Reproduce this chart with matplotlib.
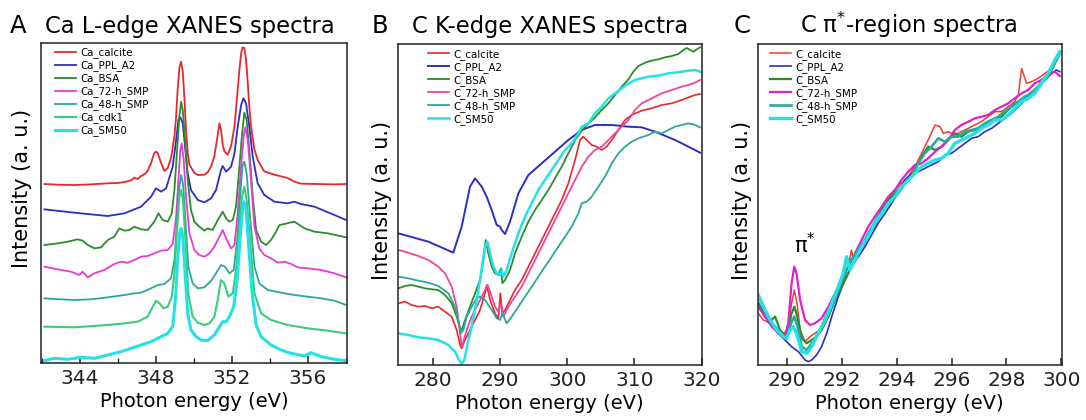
import numpy as np
import matplotlib.pyplot as plt
from matplotlib.ticker import MultipleLocator

# === Panel A: Ca L-edge XANES (energy eV, intensity a.u. incl. stacking offset) ===
a_calcite = [(342.13, 53.7), (342.83, 53.5), (343.70, 53.4), (344.58, 53.6), (345.46, 53.9), (345.98, 54.0),
             (346.34, 54.3), (346.69, 54.8), (346.86, 55.6), (347.04, 55.2), (347.21, 56.1), (347.39, 56.6),
             (347.56, 57.6), (347.74, 60.0), (347.91, 63.0), (348.0, 63.4), (348.09, 63.0), (348.27, 60.0),
             (348.44, 57.6), (348.62, 58.5), (348.79, 61.5), (348.97, 68.0), (349.06, 74.0), (349.14, 82.0),
             (349.23, 88.5), (349.32, 90.4), (349.41, 87.5), (349.49, 80.0), (349.58, 70.0), (349.67, 63.0),
             (349.76, 59.5), (350.02, 57.0), (350.20, 56.4), (350.55, 56.5), (350.72, 57.2), (350.90, 59.0),
             (351.07, 62.0), (351.25, 68.5), (351.34, 71.9), (351.42, 70.0), (351.51, 65.5), (351.60, 63.5),
             (351.77, 62.5), (351.95, 65.0), (352.13, 71.0), (352.30, 82.0), (352.39, 88.0), (352.48, 93.0),
             (352.56, 94.7), (352.65, 94.5), (352.74, 91.0), (352.83, 84.0), (352.91, 77.0), (353.0, 71.0),
             (353.18, 64.0), (353.35, 61.0), (353.53, 59.0), (353.70, 57.5), (354.23, 56.5), (354.58, 56.0),
             (354.93, 55.5), (355.28, 54.4), (355.63, 53.8), (356.51, 53.7), (357.39, 53.6), (358.0, 53.7)]
a_ppl = [(342.13, 46.1), (343.70, 45.1), (345.46, 44.1), (346.34, 44.9), (347.21, 46.9), (347.74, 49.9),
         (348.0, 52.4), (348.27, 51.4), (348.53, 52.4), (348.88, 58.9), (349.06, 66.9), (349.18, 72.9),
         (349.28, 73.7), (349.41, 71.9), (349.53, 64.9), (349.67, 56.9), (349.84, 51.9), (350.20, 48.9),
         (350.55, 48.2), (350.90, 49.4), (351.16, 51.9), (351.42, 57.9), (351.51, 59.1), (351.69, 57.4),
         (351.95, 58.9), (352.13, 62.9), (352.30, 70.9), (352.48, 77.4), (352.60, 79.4), (352.74, 77.9),
         (352.91, 70.9), (353.09, 61.9), (353.35, 53.9), (353.70, 50.4), (354.23, 48.4), (354.93, 47.9),
         (355.28, 48.4), (355.63, 47.7), (356.34, 46.9), (357.39, 44.4), (358.0, 42.9)]
a_bsa = [(342.13, 35.4), (342.83, 35.9), (343.35, 36.4), (343.88, 37.1), (344.14, 36.7), (344.41, 35.4),
         (344.76, 34.4), (345.11, 34.7), (345.46, 36.9), (345.81, 37.9), (346.07, 40.4), (346.34, 39.7),
         (346.60, 39.9), (346.86, 40.9), (347.21, 40.1), (347.56, 39.9), (347.91, 42.4), (348.13, 44.9),
         (348.35, 42.9), (348.62, 42.4), (348.83, 44.9), (348.97, 51.9), (349.11, 63.9), (349.23, 73.9),
         (349.32, 78.4), (349.41, 75.9), (349.53, 66.9), (349.67, 54.9), (349.84, 45.9), (350.02, 42.4),
         (350.28, 40.9), (350.55, 39.7), (350.72, 40.4), (350.98, 39.9), (351.25, 42.9), (351.51, 45.4),
         (351.69, 43.4), (351.86, 42.4), (352.04, 42.9), (352.21, 46.9), (352.39, 58.9), (352.53, 68.9),
         (352.65, 75.1), (352.77, 72.9), (352.91, 63.9), (353.09, 49.9), (353.27, 39.9), (353.53, 36.4),
         (353.79, 35.4), (354.05, 36.9), (354.32, 39.4), (354.49, 41.4), (354.76, 41.7), (355.02, 42.1),
         (355.28, 42.4), (355.55, 41.4), (355.81, 40.4), (356.34, 39.4), (357.04, 38.9), (358.0, 37.7)]
a_72h = [(342.13, 28.9), (342.83, 28.1), (343.53, 27.4), (343.97, 26.4), (344.14, 27.4), (344.41, 25.7),
         (344.76, 26.9), (345.28, 27.9), (345.81, 29.7), (346.16, 30.4), (346.51, 30.1), (346.86, 30.9),
         (347.21, 31.9), (347.56, 32.1), (347.91, 32.9), (348.27, 33.7), (348.62, 33.9), (348.88, 35.7),
         (349.06, 43.9), (349.18, 54.9), (349.28, 63.9), (349.35, 65.9), (349.46, 60.9), (349.58, 49.9),
         (349.76, 38.9), (350.02, 33.9), (350.28, 32.4), (350.55, 31.9), (350.81, 32.9), (351.07, 34.9),
         (351.34, 37.9), (351.51, 39.9), (351.69, 37.4), (351.95, 34.4), (352.13, 35.4), (352.30, 44.9),
         (352.48, 58.9), (352.62, 68.4), (352.70, 70.7), (352.83, 66.9), (353.0, 54.9), (353.18, 40.9),
         (353.44, 34.4), (353.70, 32.4), (354.05, 31.4), (354.41, 30.1), (354.76, 30.4), (355.11, 29.7),
         (355.46, 28.7), (355.98, 28.4), (356.69, 27.9), (357.39, 26.9), (358.0, 25.7)]
a_48h = [(342.13, 19.4), (343.0, 19.1), (343.70, 18.9), (344.58, 19.1), (345.46, 19.7), (346.34, 20.4),
         (346.86, 20.9), (347.21, 21.1), (347.74, 22.4), (348.09, 23.4), (348.44, 23.7), (348.79, 25.4),
         (348.97, 30.9), (349.11, 42.9), (349.23, 52.9), (349.32, 56.4), (349.42, 53.9), (349.55, 42.9),
         (349.70, 28.9), (349.93, 23.9), (350.20, 22.4), (350.55, 22.7), (350.90, 24.7), (351.16, 26.9),
         (351.42, 29.4), (351.63, 28.9), (351.86, 26.9), (352.09, 27.9), (352.27, 36.9), (352.44, 50.9),
         (352.56, 59.4), (352.65, 60.4), (352.77, 56.9), (352.95, 43.9), (353.18, 28.9), (353.44, 23.9),
         (353.88, 21.9), (354.58, 21.1), (355.28, 20.4), (355.98, 19.9), (356.69, 19.4), (357.39, 18.7),
         (358.0, 17.4)]
a_cdk1 = [(342.13, 10.9), (343.70, 10.7), (345.46, 11.4), (346.34, 11.9), (347.04, 12.4), (347.56, 13.9),
          (347.83, 16.9), (348.0, 18.7), (348.18, 17.9), (348.41, 16.4), (348.62, 16.9), (348.83, 19.9),
          (348.97, 26.9), (349.11, 39.9), (349.23, 49.9), (349.32, 51.9), (349.42, 48.9), (349.55, 36.9),
          (349.70, 20.9), (349.93, 13.9), (350.20, 12.1), (350.55, 11.4), (350.81, 11.9), (351.07, 13.9),
          (351.25, 18.9), (351.42, 24.9), (351.60, 23.9), (351.81, 19.9), (352.04, 20.9), (352.21, 27.9),
          (352.39, 40.9), (352.53, 49.9), (352.65, 52.9), (352.77, 48.9), (352.95, 36.9), (353.18, 20.9),
          (353.53, 14.9), (354.05, 12.9), (354.93, 11.4), (355.98, 10.4), (357.04, 9.7), (358.0, 8.9)]
a_sm50 = [(342.13, 0.7), (342.65, 1.4), (343.35, 1.1), (344.06, 1.7), (344.76, 1.4), (345.46, 2.4),
          (346.16, 3.4), (346.69, 4.4), (347.21, 5.4), (347.74, 6.4), (348.27, 7.9), (348.62, 8.9),
          (348.88, 10.9), (349.02, 18.9), (349.14, 30.9), (349.25, 38.9), (349.32, 40.4), (349.41, 37.9),
          (349.53, 26.9), (349.67, 14.9), (349.84, 9.9), (350.11, 7.9), (350.37, 6.9), (350.72, 6.7),
          (351.07, 8.4), (351.34, 10.9), (351.51, 12.4), (351.69, 12.4), (351.86, 13.9), (352.09, 16.9),
          (352.27, 24.9), (352.42, 36.9), (352.55, 45.9), (352.63, 48.4), (352.74, 45.9), (352.88, 34.9),
          (353.06, 20.9), (353.27, 11.4), (353.53, 7.9), (354.05, 5.4), (354.58, 3.9), (355.11, 2.9),
          (355.81, 2.1), (356.16, 3.1), (356.69, 1.9), (357.39, 1.1), (358.0, 0.7)]

# === Panel B: C K-edge XANES ===
b_calcite = [(274.90, 18.5), (275.89, 19.0), (276.88, 18.0), (277.87, 17.5), (278.86, 17.7), (279.85, 17.0),
             (280.84, 17.5), (281.83, 16.0), (282.83, 14.5), (283.57, 10.5), (284.07, 6.0), (284.31, 5.0),
             (284.81, 7.5), (285.55, 10.5), (286.30, 13.5), (287.04, 16.5), (287.78, 21.5), (288.03, 24.0),
             (288.53, 19.5), (289.27, 15.5), (289.77, 14.0), (290.06, 21.5), (290.36, 15.5), (290.76, 16.5),
             (291.50, 19.5), (292.24, 22.5), (293.24, 25.5), (294.23, 29.5), (295.22, 33.5), (296.21, 37.5),
             (297.20, 41.5), (298.19, 45.5), (299.18, 49.5), (300.17, 54.5), (301.17, 61.5), (301.91, 67.5),
             (302.40, 68.5), (302.90, 67.5), (303.64, 66.0), (304.39, 65.5), (305.13, 64.5), (305.87, 65.5),
             (306.62, 67.5), (307.61, 70.5), (308.60, 73.5), (309.59, 75.0), (311.08, 76.3), (312.57, 77.0),
             (314.05, 78.0), (315.54, 78.5), (317.03, 79.5), (318.02, 80.3), (319.01, 81.0), (319.75, 81.3)]
b_ppl = [(274.90, 39.5), (279.36, 37.0), (283.07, 33.7), (284.31, 41.5), (285.55, 53.5), (286.30, 56.0),
         (287.29, 53.5), (288.03, 50.5), (288.77, 46.5), (289.52, 42.0), (290.01, 41.5), (290.26, 40.5),
         (290.76, 39.3), (291.50, 43.0), (292.74, 51.5), (294.23, 57.0), (296.21, 60.5), (298.19, 64.0),
         (300.17, 67.5), (302.16, 70.5), (304.14, 72.0), (306.6, 72.0), (309.10, 71.5), (311.08, 71.3),
         (313.06, 70.0), (316.04, 67.5), (318.02, 65.5), (319.75, 63.7)]
b_bsa = [(274.90, 23.0), (275.89, 23.7), (276.88, 24.0), (277.87, 23.5), (278.86, 23.0), (279.85, 22.7),
         (280.84, 22.5), (281.83, 21.0), (282.83, 18.5), (283.57, 14.5), (284.07, 11.0), (284.31, 10.5),
         (284.81, 13.5), (285.55, 17.5), (286.30, 21.5), (287.04, 25.5), (287.54, 31.5), (287.88, 37.5),
         (288.28, 33.5), (288.77, 29.5), (289.27, 27.5), (289.77, 27.0), (290.16, 29.0), (290.36, 24.5),
         (290.76, 25.5), (291.50, 28.5), (292.24, 33.5), (293.24, 38.5), (294.23, 43.0), (295.22, 46.5),
         (296.21, 49.5), (297.20, 52.5), (298.19, 56.0), (299.18, 59.5), (300.17, 63.5), (301.17, 67.5),
         (302.16, 70.3), (303.15, 72.5), (304.14, 74.3), (305.13, 76.5), (306.12, 78.5), (307.11, 81.0),
         (308.11, 83.5), (309.10, 85.7), (309.84, 88.0), (310.58, 89.7), (311.58, 90.7), (312.57, 91.3),
         (313.56, 91.7), (314.55, 92.3), (315.54, 92.7), (316.53, 93.3), (317.28, 94.5), (317.77, 95.1),
         (318.27, 94.5), (318.76, 94.0), (319.26, 94.7), (319.75, 95.3)]
b_72h = [(274.90, 34.5), (276.38, 33.7), (277.87, 32.7), (279.36, 31.5), (280.84, 29.5), (281.83, 27.5),
         (282.83, 23.5), (283.57, 17.5), (284.07, 9.5), (284.31, 5.5), (284.56, 7.0), (285.06, 10.5),
         (285.80, 14.5), (286.79, 18.5), (287.54, 21.5), (288.18, 24.0), (288.77, 20.5), (289.27, 17.5),
         (289.77, 16.0), (290.16, 18.5), (290.51, 14.5), (291.25, 17.5), (292.24, 20.5), (293.24, 23.5),
         (294.23, 27.5), (295.22, 31.5), (296.21, 35.5), (297.20, 39.5), (298.19, 43.5), (299.18, 47.5),
         (300.17, 51.5), (301.17, 55.5), (302.16, 59.5), (303.15, 62.5), (304.14, 64.5), (305.13, 65.5),
         (306.12, 67.5), (307.11, 69.5), (308.11, 71.5), (309.10, 73.5), (310.09, 76.5), (311.08, 78.5),
         (312.07, 79.5), (313.06, 80.5), (314.05, 81.5), (315.54, 82.5), (317.03, 83.5), (318.02, 84.0),
         (319.01, 84.7), (319.75, 85.5)]
b_48h = [(274.90, 26.5), (276.38, 26.0), (277.87, 25.3), (279.36, 24.7), (280.84, 23.7), (282.33, 21.5),
         (283.32, 17.5), (283.92, 12.5), (284.21, 9.5), (284.56, 10.5), (285.06, 14.5), (285.80, 17.5),
         (286.54, 20.0), (287.04, 20.5), (287.78, 19.5), (288.77, 16.5), (289.52, 14.0), (290.01, 13.5),
         (290.36, 15.5), (291.0, 12.5), (291.75, 14.5), (292.74, 17.5), (293.73, 20.5), (294.72, 23.5),
         (295.71, 26.5), (296.70, 29.5), (297.70, 32.5), (298.69, 35.5), (299.68, 38.5), (300.67, 41.5),
         (301.66, 45.5), (302.16, 48.5), (302.90, 49.0), (303.64, 50.5), (304.63, 53.5), (305.63, 56.5),
         (306.62, 60.5), (307.61, 63.5), (308.60, 65.5), (309.59, 67.0), (310.58, 68.0), (312.07, 69.0),
         (313.06, 70.0), (314.05, 69.5), (315.04, 70.5), (316.04, 71.5), (317.03, 72.0), (318.02, 72.5),
         (319.01, 72.0), (319.75, 71.3)]
b_sm50 = [(274.90, 9.5), (276.38, 9.0), (277.87, 8.3), (279.36, 8.0), (280.84, 7.5), (282.33, 6.0),
          (283.32, 4.0), (283.92, 1.5), (284.31, 0.3), (284.71, 1.5), (285.20, 6.5), (285.80, 11.5),
          (286.54, 19.5), (287.19, 27.5), (287.78, 35.5), (288.13, 37.0), (288.53, 33.5), (289.02, 29.5),
          (289.52, 27.5), (290.01, 27.0), (290.26, 28.5), (290.51, 26.5), (291.0, 28.5), (291.75, 33.5),
          (292.74, 39.5), (293.73, 44.5), (294.72, 48.5), (295.71, 52.5), (296.70, 55.5), (297.70, 58.5),
          (298.69, 61.5), (299.68, 64.5), (300.67, 66.5), (301.66, 69.5), (302.16, 71.5), (303.15, 72.5),
          (304.14, 75.5), (305.13, 77.5), (306.12, 80.0), (307.11, 81.5), (308.11, 83.0), (309.10, 84.5),
          (310.09, 85.5), (311.08, 86.0), (312.07, 86.5), (313.06, 86.7), (314.05, 87.0), (315.04, 87.5),
          (316.04, 87.7), (317.03, 88.0), (318.02, 88.3), (319.01, 88.5), (319.75, 88.0)]

# === Panel C: C pi*-region ===
c_calcite = [(288.97, 15.5), (289.15, 13.5), (289.40, 12.5), (289.64, 10.0), (289.88, 9.0), (290.06, 11.5),
             (290.18, 18.5), (290.28, 22.5), (290.38, 18.5), (290.49, 10.5), (290.67, 7.0), (290.85, 8.5),
             (291.03, 9.5), (291.21, 10.5), (291.40, 14.5), (291.64, 18.5), (291.88, 22.5), (292.12, 26.5),
             (292.30, 32.0), (292.36, 34.5), (292.43, 31.5), (292.61, 32.5), (292.85, 35.5), (293.09, 39.5),
             (293.46, 45.5), (293.70, 49.5), (293.94, 52.5), (294.18, 54.5), (294.43, 56.5), (294.67, 59.5),
             (294.91, 63.5), (295.15, 67.5), (295.40, 72.0), (295.58, 71.5), (295.70, 69.5), (295.88, 70.0),
             (296.12, 69.0), (296.36, 70.0), (296.61, 71.0), (296.85, 72.0), (297.09, 73.0), (297.33, 74.5),
             (297.58, 76.0), (297.82, 76.0), (298.06, 77.5), (298.30, 79.0), (298.43, 81.0), (298.55, 89.0),
             (298.73, 84.5), (298.91, 85.0), (299.15, 86.0), (299.40, 87.5), (299.64, 89.0), (299.82, 91.5),
             (299.94, 93.5)]
c_ppl = [(288.97, 18.5), (289.21, 14.5), (289.46, 11.5), (289.70, 9.5), (289.94, 7.5), (290.18, 5.5),
         (290.43, 4.0), (290.67, 1.5), (290.79, 1.0), (290.91, 1.5), (291.09, 3.0), (291.27, 5.5),
         (291.46, 9.5), (291.64, 14.5), (291.88, 20.5), (292.12, 25.5), (292.36, 29.5), (292.61, 32.5),
         (292.85, 35.5), (293.09, 39.0), (293.33, 42.5), (293.58, 45.5), (293.82, 48.5), (294.06, 51.5),
         (294.30, 55.5), (294.55, 57.5), (294.79, 58.0), (295.03, 59.0), (295.27, 60.0), (295.52, 61.0),
         (295.76, 63.0), (296.0, 63.5), (296.24, 65.0), (296.49, 66.5), (296.73, 68.0), (296.97, 68.5),
         (297.21, 70.0), (297.46, 71.0), (297.70, 72.5), (297.94, 74.0), (298.18, 75.5), (298.43, 77.5),
         (298.67, 79.5), (298.91, 81.5), (299.15, 83.5), (299.40, 85.5), (299.64, 87.5), (299.82, 88.5),
         (299.94, 88.0)]
c_bsa = [(288.97, 18.5), (289.21, 15.5), (289.46, 13.5), (289.58, 14.5), (289.76, 10.5), (289.94, 9.0),
         (290.06, 10.5), (290.18, 15.5), (290.28, 17.5), (290.39, 14.5), (290.55, 8.0), (290.73, 6.5),
         (290.91, 7.5), (291.09, 8.5), (291.27, 10.5), (291.52, 14.5), (291.76, 19.5), (292.0, 23.5),
         (292.24, 27.5), (292.49, 31.5), (292.73, 35.5), (292.97, 39.5), (293.21, 43.0), (293.46, 46.5),
         (293.70, 49.5), (293.94, 51.5), (294.18, 53.5), (294.43, 55.5), (294.67, 58.5), (294.91, 62.5),
         (295.15, 65.5), (295.40, 64.5), (295.64, 65.5), (295.88, 67.5), (296.12, 69.5), (296.36, 68.5),
         (296.61, 70.0), (296.85, 70.5), (297.09, 71.5), (297.33, 73.0), (297.58, 74.0), (297.82, 74.5),
         (298.06, 76.5), (298.30, 78.5), (298.55, 79.5), (298.79, 81.0), (299.03, 82.5), (299.27, 84.5),
         (299.52, 86.5), (299.76, 90.5), (299.94, 94.0)]
c_72h = [(288.97, 17.5), (289.21, 14.5), (289.46, 12.0), (289.70, 9.5), (289.94, 8.5), (290.06, 12.5),
         (290.18, 24.5), (290.28, 29.5), (290.36, 27.5), (290.49, 19.5), (290.67, 13.5), (290.85, 12.0),
         (291.03, 12.5), (291.27, 14.0), (291.52, 17.5), (291.76, 21.5), (292.0, 25.5), (292.24, 29.5),
         (292.49, 33.5), (292.73, 37.5), (292.97, 41.5), (293.21, 44.5), (293.46, 47.5), (293.70, 50.5),
         (293.94, 52.5), (294.18, 55.5), (294.43, 58.0), (294.67, 60.0), (294.91, 60.5), (295.15, 62.0),
         (295.40, 64.0), (295.64, 65.5), (295.88, 67.5), (296.12, 70.5), (296.36, 72.0), (296.61, 73.0),
         (296.85, 74.0), (297.09, 74.5), (297.33, 75.0), (297.58, 76.5), (297.82, 77.5), (298.06, 78.5),
         (298.30, 80.0), (298.55, 81.5), (298.79, 82.5), (299.03, 84.5), (299.27, 85.5), (299.52, 87.0),
         (299.76, 88.0), (299.94, 86.7)]
c_48h = [(288.97, 20.5), (289.21, 16.5), (289.46, 12.5), (289.70, 10.5), (289.94, 8.0), (290.06, 9.5),
         (290.18, 13.0), (290.28, 14.5), (290.40, 11.5), (290.55, 5.5), (290.73, 4.5), (290.91, 6.5),
         (291.15, 9.5), (291.40, 13.5), (291.64, 17.5), (291.88, 22.5), (292.12, 27.5), (292.36, 31.5),
         (292.61, 34.5), (292.85, 37.5), (293.09, 41.0), (293.33, 44.5), (293.58, 47.0), (293.82, 49.5),
         (294.06, 51.5), (294.30, 54.5), (294.55, 56.5), (294.79, 60.5), (295.03, 63.5), (295.27, 65.5),
         (295.52, 68.0), (295.76, 67.0), (296.0, 68.5), (296.24, 68.5), (296.49, 70.0), (296.73, 70.5),
         (296.97, 71.0), (297.21, 72.5), (297.46, 73.5), (297.70, 74.5), (297.94, 76.0), (298.18, 77.5),
         (298.43, 79.0), (298.67, 80.5), (298.91, 81.5), (299.15, 83.5), (299.40, 86.5), (299.64, 88.5),
         (299.82, 91.5), (299.94, 93.5)]
c_sm50 = [(288.97, 21.0), (289.15, 17.5), (289.40, 13.5), (289.64, 10.5), (289.88, 8.5), (290.0, 8.0),
          (290.12, 10.5), (290.24, 11.5), (290.36, 9.5), (290.55, 4.0), (290.73, 3.5), (290.91, 5.5),
          (291.15, 9.5), (291.40, 13.5), (291.64, 18.5), (291.88, 23.5), (292.06, 27.5), (292.18, 32.5),
          (292.30, 28.5), (292.49, 31.5), (292.73, 35.5), (292.97, 38.5), (293.21, 42.5), (293.46, 45.5),
          (293.70, 48.5), (293.94, 50.5), (294.18, 53.5), (294.43, 55.5), (294.67, 57.5), (294.91, 59.5),
          (295.15, 60.5), (295.40, 61.5), (295.64, 62.0), (295.88, 63.5), (296.12, 66.5), (296.36, 67.5),
          (296.61, 68.5), (296.85, 69.5), (297.09, 71.0), (297.33, 72.0), (297.58, 73.5), (297.82, 73.5),
          (298.06, 75.0), (298.30, 77.0), (298.55, 79.0), (298.79, 80.0), (299.03, 81.5), (299.27, 84.5),
          (299.52, 87.5), (299.76, 91.5), (299.94, 94.0)]

labels_a = ["Ca_calcite", "Ca_PPL_A2", "Ca_BSA", "Ca_72-h_SMP", "Ca_48-h_SMP", "Ca_cdk1", "Ca_SM50"]
labels_b = ["C_calcite", "C_PPL_A2", "C_BSA", "C_72-h_SMP", "C_48-h_SMP", "C_SM50"]

RED, BLUE, GREEN = "#e8262b", "#2a2fc4", "#2b8c2b"
TEAL, CDK, CYAN = "#2aa89c", "#3ccc7a", "#22e2e6"

W, H = 1086, 420
fig = plt.figure(figsize=(W / 100, H / 100), dpi=100)


def add_panel(x0, x1, top, bottom, xlim, ylim):
    ax = fig.add_axes([x0 / W, 1 - bottom / H, (x1 - x0) / W, (bottom - top) / H])
    ax.set_xlim(*xlim)
    ax.set_ylim(*ylim)
    ax.set_yticks([])
    for s in ax.spines.values():
        s.set_linewidth(1.1)
        s.set_color("#222222")
    ax.tick_params(axis="x", which="both", direction="in", top=False, labelsize=14.5, pad=4,
                   colors="#222222")
    ax.tick_params(axis="x", which="major", length=5, width=1.1)
    ax.tick_params(axis="x", which="minor", length=3.5, width=1.0)
    ax.set_xlabel("Photon energy (eV)", fontsize=14, labelpad=3)
    return ax


def draw(ax, series, labels, colors, widths, legend_x):
    for data, lab, col, lw in zip(series, labels, colors, widths):
        arr = np.array(data)
        ax.plot(arr[:, 0], arr[:, 1], color=col, lw=lw, label=lab, solid_joinstyle="round")
    ax.legend(loc="upper left", bbox_to_anchor=(legend_x, 0.985), frameon=False, fontsize=7.4,
              handlelength=2.0, handletextpad=0.5, labelspacing=0.2, borderpad=0, borderaxespad=0)


# panel A
axA = add_panel(41, 347, 42.7, 363, (341.95, 358.05), (0, 96.1))
axA.xaxis.set_major_locator(MultipleLocator(4))
axA.xaxis.set_minor_locator(MultipleLocator(2))
draw(axA, [a_calcite, a_ppl, a_bsa, a_72h, a_48h, a_cdk1, a_sm50], labels_a,
     [RED, BLUE, GREEN, "#e83ad4", TEAL, CDK, CYAN], [1.3, 1.3, 1.3, 1.3, 1.3, 1.5, 2.2], 0.046)

# panel B
axB = add_panel(397.5, 702, 44, 365, (274.77, 320.04), (0, 96.3))
axB.xaxis.set_major_locator(MultipleLocator(10))
draw(axB, [b_calcite, b_ppl, b_bsa, b_72h, b_48h, b_sm50], labels_b,
     [RED, BLUE, GREEN, "#f0449e", TEAL, CYAN], [1.2, 1.4, 1.3, 1.3, 1.3, 1.8], 0.100)

# panel C
axC = add_panel(757.5, 1062, 44, 365, (288.94, 300.02), (0, 96.3))
axC.xaxis.set_major_locator(MultipleLocator(2))
draw(axC, [c_calcite, c_ppl, c_bsa, c_72h, c_48h, c_sm50], labels_b,
     ["#e8402a", BLUE, GREEN, "#e020c8", TEAL, CYAN], [1.1, 1.2, 1.6, 1.6, 1.9, 2.4], 0.041)
axC.text(290.67, 36, "π$^{*}$", fontsize=15, ha="center", va="center")

# panel letters and titles
for x, letter in [(10, "A"), (372, "B"), (734, "C")]:
    fig.text(x / W, 1 - 33 / H, letter, fontsize=17.5, ha="left", va="baseline")
for x, title in [(45, "Ca L-edge XANES spectra"), (412, "C K-edge XANES spectra"),
                 (800, "C π$^{*}$-region spectra")]:
    fig.text(x / W, 1 - 33 / H, title, fontsize=16.3, ha="left", va="baseline")

# y labels
for x, y in [(22, 188), (382, 200), (742, 200)]:
    fig.text(x / W, 1 - y / H, "Intensity (a. u.)", fontsize=15, rotation=90, ha="center", va="center")

fig.savefig("out.png", dpi=100)
